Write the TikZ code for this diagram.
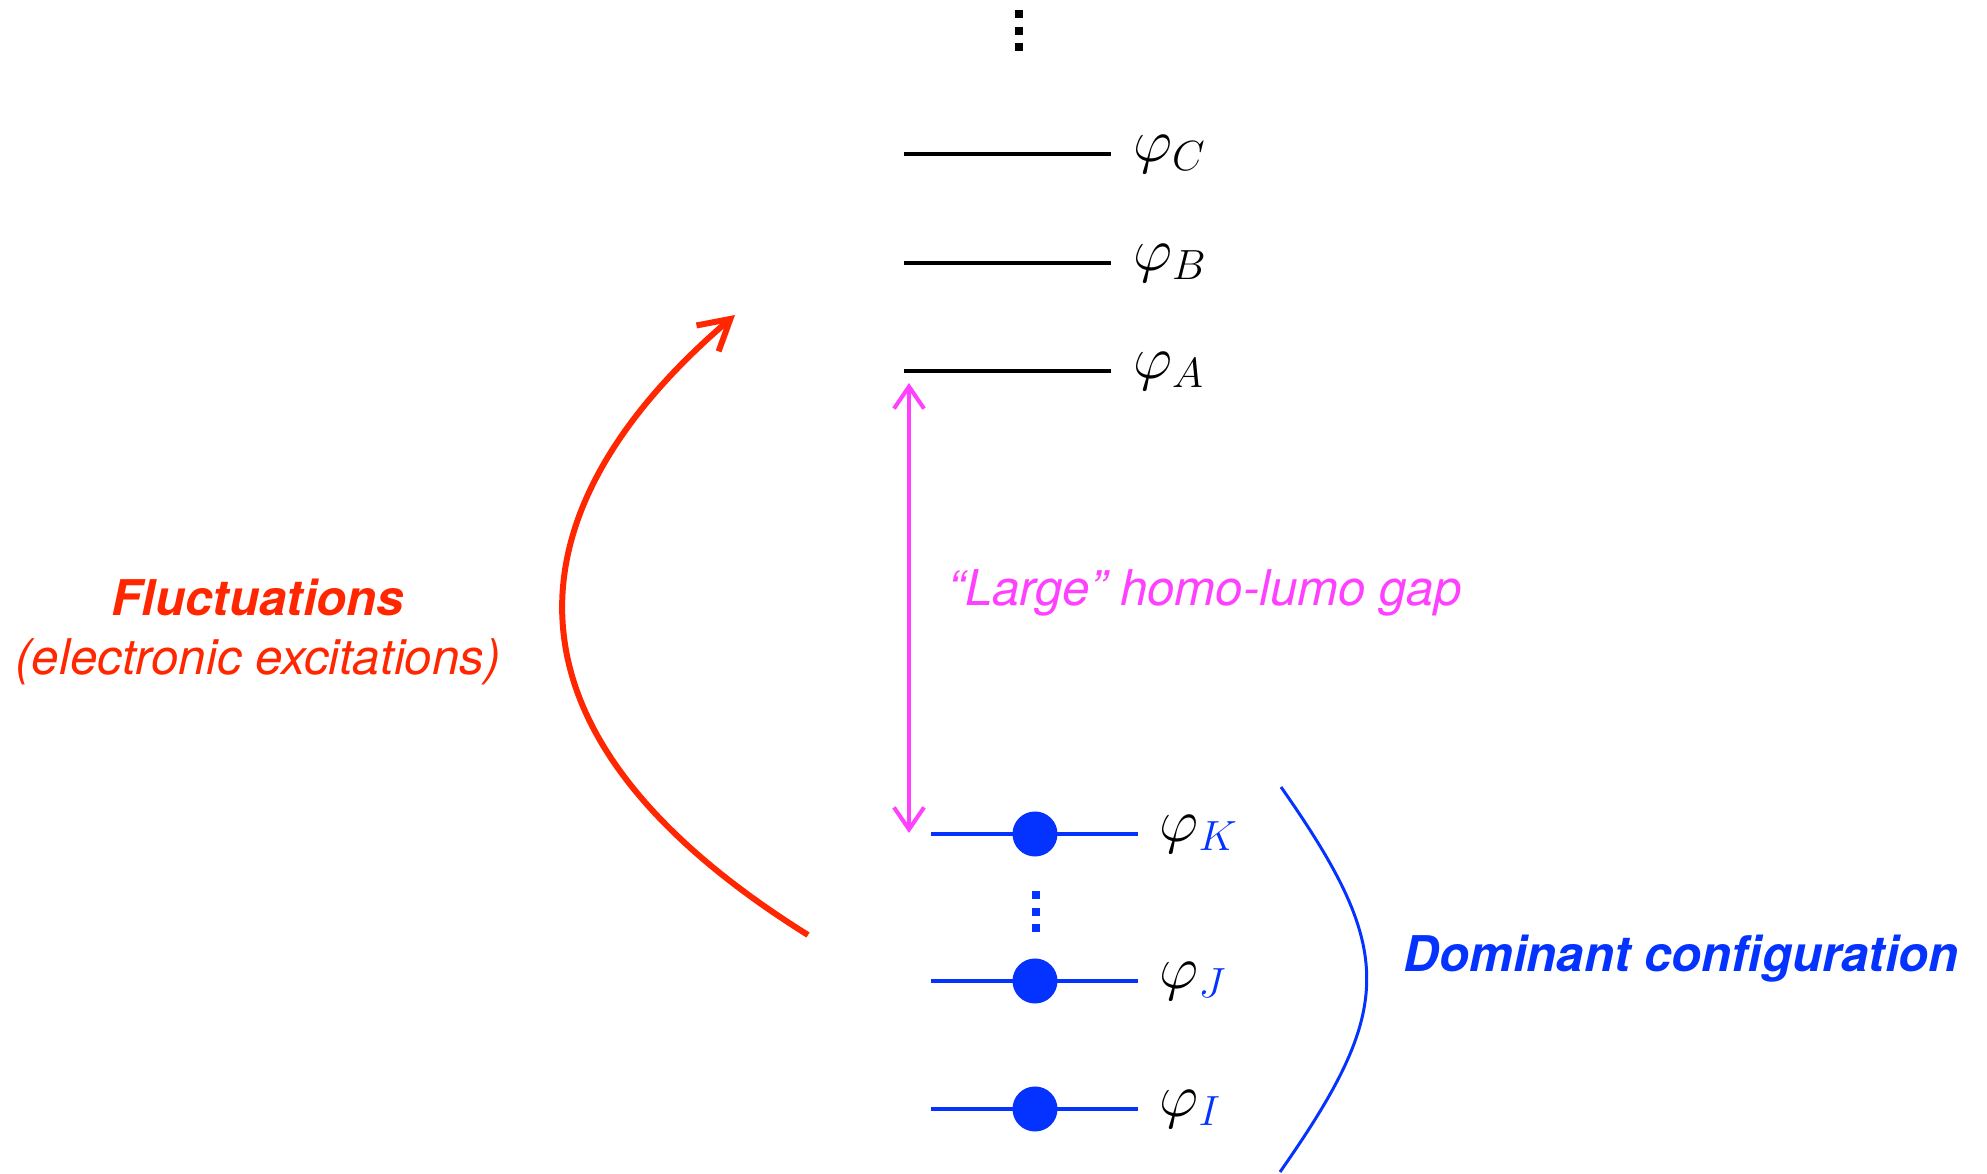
\documentclass[tikz,border=0pt]{standalone}
\usepackage{fontspec}
\setsansfont{TeX Gyre Heros}
\usetikzlibrary{arrows.meta,positioning,calc}
\definecolor{fluctred}{RGB}{255,38,0}
\definecolor{gapmagenta}{RGB}{255,64,255}
\definecolor{configblue}{RGB}{4,51,255}

\tikzset{
  level/.style={line width=1.15pt},
  occlevel/.style={configblue, line width=0.95pt},
  electron/.style={circle, fill=configblue, inner sep=0pt, minimum size=0.45cm},
  philabel/.style={inner sep=0pt, text=black, font=\fontsize{18}{22}\selectfont},
  gaparrow/.style={gapmagenta, line width=1.15pt,
    {Straight Barb[length=0.22cm,width=0.3cm]}-{Straight Barb[length=0.22cm,width=0.3cm]}},
  fluctarrow/.style={fluctred, line width=1.7pt, -{Straight Barb[length=0.3cm,width=0.34cm]}},
  configarc/.style={configblue, line width=0.85pt},
  sflabel/.style={inner sep=0pt, font=\sffamily\itshape\fontsize{14}{17}\selectfont},
  sfboldlabel/.style={inner sep=0pt, font=\sffamily\bfseries\itshape\fontsize{14}{17}\selectfont}
}

\begin{document}
\begin{tikzpicture}[x=0.01cm, y=0.01cm]
\useasboundingbox (0,0) rectangle (1987,-1174);

\foreach \y in {14,31,47}
  \fill (1015,-\y+4) rectangle ++(8,-8);
\foreach \name/\y in {C/154,B/263,A/371}
  \draw[level] (904,-\y) coordinate (\name L) -- (1111,-\y) coordinate (\name R)
    node[philabel, right=2mm] (phi\name) {$\varphi_\name$};

\foreach \name/\y in {K/834,J/981,I/1109} {
  \draw[occlevel] (931,-\y) coordinate (\name L) -- (1138,-\y) coordinate (\name R)
    node[philabel, right=2mm] (phi\name) {$\varphi_{\color{configblue}\name}$};
  \node[electron] (e\name) at (1035,-\y) {};
}
\foreach \y in {895,912,928}
  \fill[configblue] (1032,-\y+4) rectangle ++(8,-8);

\coordinate (gapTop) at (909,-383);
\coordinate (gapBot) at (909,-833);
\draw[gaparrow] (gapTop) -- (gapBot);
\node[sflabel, gapmagenta, anchor=base west] (gapLabel) at (948,-606) {“Large” homo-lumo gap};

\coordinate (fStart) at (808,-935);
\coordinate (fTip) at (735,-315);
\draw[fluctarrow] (fStart) .. controls (457,-716) and (530,-490) .. (fTip);
\node[sfboldlabel, fluctred, align=center] (fluctLabel) at (258,-632)
  {Fluctuations\\\mdseries(electronic excitations)};

\coordinate (cfgTop) at (1281,-787);
\coordinate (cfgBot) at (1280,-1172);
\draw[configarc] (cfgTop) to[out=-55,in=55,looseness=1.33] (cfgBot);
\node[sfboldlabel, configblue, anchor=base west] (configLabel) at (1403,-972)
  {Dominant configuration};
\end{tikzpicture}
\end{document}
